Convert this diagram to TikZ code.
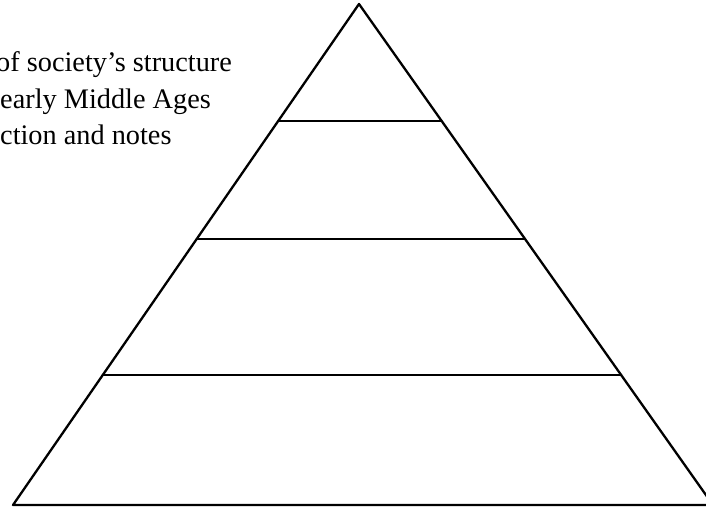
\documentclass[tikz,border=0pt]{standalone}
\usepackage{fontspec}
\setmainfont{Liberation Serif}
\usepackage{tikz}
\usetikzlibrary{calc}
\tikzset{
  every picture/.style = {line join=round, line cap=round},
  pyramid edge/.style = {draw=black, line width=2.3bp},
  tier line/.style = {draw=black, line width=2.3bp},
  caption line/.style = {
    anchor=base west,
    inner sep=0pt,
    font=\fontsize{28.3bp}{34bp}\selectfont,
    text=black
  },
}

\begin{document}
\begin{tikzpicture}[x=1bp,y=-1bp]
  \useasboundingbox (0,0) rectangle (706,509);
  \clip (0,0) rectangle (706,509);

  % pyramid outline
  \coordinate (apex) at (359,4);
  \coordinate (baseL) at (13,505);
  \coordinate (baseR) at (713,505);
  \draw[pyramid edge] (apex) -- (baseL) -- (baseR) -- cycle;

  % tiers
  \foreach \t [count=\i] in {0.2335,0.469,0.7405} {
    \coordinate (tierL\i) at ($(apex)!\t!(baseL)$);
    \coordinate (tierR\i) at ($(apex)!\t!(baseR)$);
    \draw[tier line] (tierL\i) -- (tierR\i);
  }

  % caption, cut at the left edge
  \node[caption line] (capA) at (-4,72) {of society’s structure};
  \node[caption line] (capB) at (0,108.5) {early Middle Ages};
  \node[caption line] (capC) at (0,145) {ction and notes};
\end{tikzpicture}
\end{document}
